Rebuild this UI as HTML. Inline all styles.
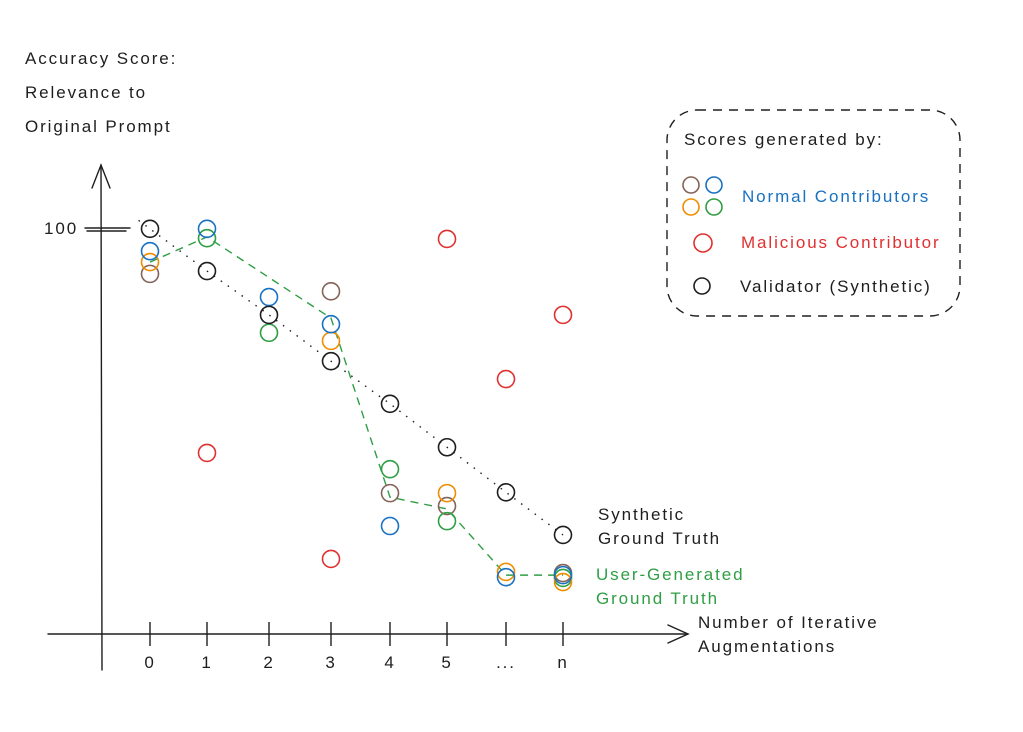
<!DOCTYPE html>
<html><head><meta charset="utf-8"><style>
html,body{margin:0;padding:0;background:#fff;}
svg text{font-family:"Liberation Sans",sans-serif;letter-spacing:1.9px;}
</style></head><body>
<svg id="chart" width="1023" height="727" viewBox="0 0 1023 727" xmlns="http://www.w3.org/2000/svg">
<g id="axes" stroke="#1e1e1e" stroke-width="1.4" fill="none" stroke-linecap="round">
  <path d="M102 670 L101 165"/>
  <path d="M92 188 L101 165 L110 188"/>
  <path d="M48 634 L688 634"/>
  <path d="M668 625 L688 634 L668 643"/>
  <path d="M85 228 L130 228 M87 231 L126 231"/>
</g>
<g fill="#1e1e1e" font-size="17">
  <text x="25" y="64">Accuracy Score:</text>
  <text x="25" y="98">Relevance to</text>
  <text x="25" y="132">Original Prompt</text>
  <text x="44" y="234">100</text>
  <text x="698" y="628">Number of Iterative</text>
  <text x="698" y="652">Augmentations</text>
  <text x="598" y="520">Synthetic</text>
  <text x="598" y="544">Ground Truth</text>
  <text x="596" y="580" fill="#2f9e44">User-Generated</text>
  <text x="596" y="604" fill="#2f9e44">Ground Truth</text>
</g>
<g id="ticks"></g>
<g id="lines"></g>
<g id="marks"></g>
<g id="legend">
  <rect x="667" y="110" width="293" height="206" rx="30" fill="none" stroke="#1e1e1e" stroke-width="1.4" stroke-dasharray="9 7"/>
  <text x="684" y="145" font-size="17" fill="#1e1e1e">Scores generated by:</text>
  <circle cx="691" cy="185" r="8" fill="none" stroke="#846358" stroke-width="1.6"/>
  <circle cx="714" cy="185" r="8" fill="none" stroke="#1971c2" stroke-width="1.6"/>
  <circle cx="691" cy="207" r="8" fill="none" stroke="#f08c00" stroke-width="1.6"/>
  <circle cx="714" cy="207" r="8" fill="none" stroke="#2f9e44" stroke-width="1.6"/>
  <text x="742" y="202" font-size="17" fill="#1971c2">Normal Contributors</text>
  <circle cx="703" cy="243" r="9" fill="none" stroke="#e03131" stroke-width="1.6"/>
  <text x="741" y="248" font-size="17" fill="#e03131">Malicious Contributor</text>
  <circle cx="702" cy="286" r="8" fill="none" stroke="#1e1e1e" stroke-width="1.6"/>
  <text x="740" y="292" font-size="17" fill="#1e1e1e">Validator (Synthetic)</text>
</g>
</svg>
<script>
const categories = ["0","1","2","3","4","5","...","n"];
const validator = [99.8, 89.4, 78.6, 67.2, 56.7, 46, 34.9, 24.4];
const userTruth = [91.6, 97.8, null, 77.8, 33.7, 30.8, 14.5, 14.5];
const malicious = [null, 44.6, null, 18.5, null, 97.3, 62.8, 78.6];
const blueVals = [94.3, 99.8, 83, 76.3, 26.6, null, 14, 14.5];
const orangeVals = [91.6, null, null, 72.2, null, 34.7, 15.3, 12.8];
const brownVals = [88.7, null, null, 84.4, 34.7, 31.5, null, 15];
const greenVals = [null, 97.5, 74.2, null, 40.6, 27.8, null, 13.8];

const NS = "http://www.w3.org/2000/svg";
const xPos = [150, 207, 269, 331, 390, 447, 506, 563];
function xScale(i){ return xPos[i]; }
function yScale(v){ return 634 - v * 4.06; }

const ticks = document.getElementById('ticks');
categories.forEach((c, i) => {
  const l = document.createElementNS(NS, 'line');
  l.setAttribute('x1', xScale(i)); l.setAttribute('x2', xScale(i));
  l.setAttribute('y1', 622); l.setAttribute('y2', 646);
  l.setAttribute('stroke', '#1e1e1e'); l.setAttribute('stroke-width', '1.4');
  
  
  ticks.appendChild(l);
  const t = document.createElementNS(NS, 'text');
  t.setAttribute('x', xScale(i)); t.setAttribute('y', 668);
  t.setAttribute('text-anchor', 'middle'); t.setAttribute('font-size', '17');
  t.setAttribute('fill', '#1e1e1e');
  t.textContent = c;
  
  
  ticks.appendChild(t);
});

const lines = document.getElementById('lines');
function poly(vals, color, dash, name, extend){
  const pts = [];
  vals.forEach((v, i) => { if (v !== null) pts.push([xScale(i), yScale(v)]); });
  if (extend && pts.length > 1) {
    const a = pts[0], b = pts[1];
    pts.unshift([a[0] - (b[0]-a[0])*0.2, a[1] - (b[1]-a[1])*0.2]);
  }
  const p = document.createElementNS(NS, 'polyline');
  p.setAttribute('points', pts.map(q => q.join(',')).join(' '));
  p.setAttribute('fill', 'none'); p.setAttribute('stroke', color);
  p.setAttribute('stroke-width', '1.4'); p.setAttribute('stroke-dasharray', dash);
  
  
  lines.appendChild(p);
}
poly(validator, '#1e1e1e', '1.5 7', 'validator-line', true);
poly(userTruth, '#2f9e44', '8 6', 'user-truth-line', false);

const marks = document.getElementById('marks');
function dots(vals, color, name){
  vals.forEach((v, i) => {
    if (v === null) return;
    const c = document.createElementNS(NS, 'circle');
    c.setAttribute('cx', xScale(i)); c.setAttribute('cy', yScale(v));
    c.setAttribute('r', 8.5); c.setAttribute('fill', 'none');
    c.setAttribute('stroke', color); c.setAttribute('stroke-width', '1.6');
    
    
    marks.appendChild(c);
  });
}
dots(brownVals, '#846358', 'point-brown');
dots(greenVals, '#2f9e44', 'point-green');
dots(orangeVals, '#f08c00', 'point-orange');
dots(blueVals, '#1971c2', 'point-blue');
dots(malicious, '#e03131', 'point-malicious');
dots(validator, '#1e1e1e', 'point-validator');
</script>
</body></html>
